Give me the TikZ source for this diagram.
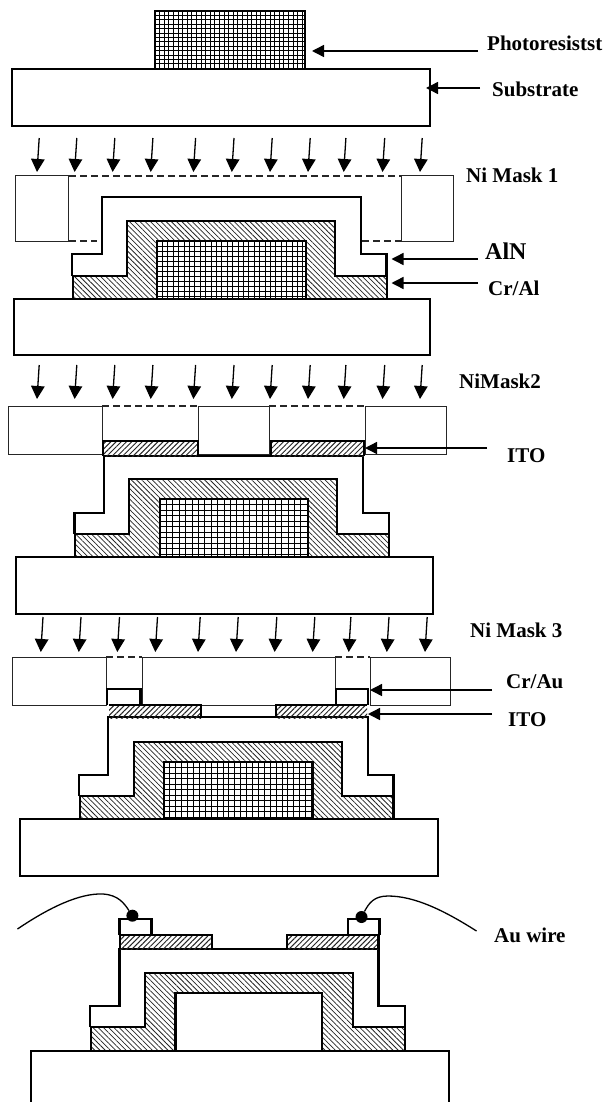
\documentclass[tikz,border=0pt]{standalone}
\usepackage{fontspec}
\setmainfont{Liberation Serif}
\usetikzlibrary{arrows.meta,patterns.meta}
\tikzset{
  thickline/.style={draw=black,line width=2.4pt,line join=miter},
  maskline/.style={draw=black!85,line width=1pt},
  maskgap/.style={draw=black!85,line width=1.2pt,dash pattern=on 7pt off 4pt},
  metalhatch/.style={pattern={Lines[angle=-45,distance=3.7pt,line width=.75pt]},pattern color=black!85},
  itohatch/.style={pattern={Lines[angle=45,distance=3.7pt,line width=1pt]},pattern color=black!85},
  gridline/.style={draw=black,line width=.9pt},
  ray/.style={draw=black,line width=1.3pt,-{Triangle[width=13.5pt,length=13pt]}},
  leader/.style={draw=black,line width=1.4pt,-{Triangle[width=12pt,length=12pt]}},
  tag/.style={anchor=west,inner sep=0pt,font=\bfseries\fontsize{21}{21}\selectfont,text=black},
  wire/.style={draw=black,line width=1.3pt},
  bump/.style={circle,fill=black,inner sep=0pt,minimum size=12pt}
}
\newcommand{\rayrow}[4]{%
  \foreach \xx [count=\ii] in {#4}{
    \coordinate (#1-\ii-from) at ({\xx+2.2},#2);
    \coordinate (#1-\ii-to) at (\xx,#3);
    \draw[ray] (#1-\ii-from) -- (#1-\ii-to);
  }}
\newcommand{\lead}[5]{%
  \coordinate (#1-from) at (#2,#4);
  \coordinate (#1-to) at (#3,#5);
  \draw[leader] (#1-from) -- (#1-to);}
% x1 y1 x2 y2 dx dy
\newcommand{\resistcells}[6]{%
  \begin{scope}
  \clip (#1,#2) rectangle (#3,#4);
  \pgfmathsetmacro{\gxa}{#1+#5}
  \pgfmathsetmacro{\gxb}{#1+2*#5}
  \pgfmathsetmacro{\gya}{#2+#6}
  \pgfmathsetmacro{\gyb}{#2+2*#6}
  \foreach \gx in {\gxa,\gxb,...,#3} \draw[gridline] (\gx,#2) -- (\gx,#4);
  \foreach \gy in {\gya,\gyb,...,#4} \draw[gridline] (#1,\gy) -- (#3,\gy);
  \end{scope}}
\begin{document}
\begin{tikzpicture}[x=1pt,y=-1pt]
\useasboundingbox (0,0) rectangle (607,1102);
\fill[white] (0,0) rectangle (607,1102);
\begin{scope}
\clip (0,0) rectangle (607,1102);

% ---------- stage 1
\resistcells{155}{11}{305}{69}{4.6}{4.4}
\draw[thickline] (155,69) -- (155,11) -- (305,11) -- (305,69);
\draw[thickline,fill=white] (12,69) rectangle (430,126);
\rayrow{a}{138}{172}{37,74.6,112.6,150.7,193.4,231.8,270,308,343.7,382.5,420}

% ---------- stage 2: mask 1 and device
\draw[maskline] (15.5,176) rectangle (68.7,241);
\draw[maskline] (401,176) rectangle (453,241);
\draw[maskgap] (69,176) -- (401,176);
\draw[maskgap] (69,241) -- (97,241);
\draw[maskgap] (362,241) -- (401,241);
\path[metalhatch] (73,298) -- (73,276) -- (127,276) -- (127,221) -- (335,221) -- (335,276) -- (387,276) -- (387,298) -- cycle;
\draw[thickline] (73,298) -- (73,276) -- (127,276) -- (127,221) -- (335,221) -- (335,276) -- (387,276) -- (387,298);
\draw[thickline] (72,276) -- (72,254) -- (102,254) -- (102,197) -- (361,197) -- (361,254) -- (386.5,254) -- (386.5,276);
\fill[white] (157,241) rectangle (306,298);
\resistcells{157}{241}{306}{298}{5.4}{5}
\draw[thickline] (157,298) -- (157,241) -- (306,241) -- (306,298);
\draw[thickline,fill=white] (14,299) rectangle (430,355);
\rayrow{b}{365}{399}{37,74.6,112.6,150.7,193.4,231.8,270,308,343.7,382.5,420}

% ---------- stage 3: mask 2 and device
\draw[maskline] (8,406) rectangle (102,454);
\draw[maskline] (198.5,406) rectangle (269,454);
\draw[maskline] (365,406) rectangle (446,454);
\draw[maskgap] (102,406) -- (198.5,406);
\draw[maskgap] (269,406) -- (365,406);
\path[metalhatch] (75,557) -- (75,534) -- (129,534) -- (129,479) -- (337,479) -- (337,534) -- (389,534) -- (389,557) -- cycle;
\draw[thickline] (75,557) -- (75,534) -- (129,534) -- (129,479) -- (337,479) -- (337,534) -- (389,534) -- (389,557);
\draw[thickline] (74.5,534) -- (74.5,513) -- (104,513) -- (104,456) -- (363,456) -- (363,513) -- (389,513) -- (389,534);
\path[itohatch] (103,441) rectangle (198,456);
\path[itohatch] (271,441) rectangle (364,456);
\draw[thickline] (103,456) -- (103,441) -- (198,441) -- (198,456);
\draw[thickline] (271,456) -- (271,441) -- (364,441) -- (364,456);
\fill[white] (160,499) rectangle (308,557);
\resistcells{160}{499}{308}{557}{6.4}{5.5}
\draw[thickline] (160,557) -- (160,499) -- (308,499) -- (308,557);
\draw[thickline,fill=white] (16,557) rectangle (433,614);
\rayrow{c}{617}{652}{40.8,78.8,117.3,155.3,198,236,274.6,312.6,348.7,386.8,425}

% ---------- stage 4: mask 3 and device
\draw[maskline] (12.4,657) rectangle (106,705);
\draw[maskline] (142,657) rectangle (335,705);
\draw[maskline] (370,657) rectangle (450.5,705);
\draw[maskgap] (106,657) -- (142,657);
\draw[maskgap] (335,657) -- (370,657);
\draw[thickline] (107,705) -- (107,689) -- (140.6,689) -- (140.6,705);
\draw[thickline] (336,705) -- (336,689) -- (368,689) -- (368,705);
\path[metalhatch] (80,819) -- (80,796) -- (134,796) -- (134,742) -- (342,742) -- (342,796) -- (393.5,796) -- (393.5,819) -- cycle;
\draw[thickline] (80,819) -- (80,796) -- (134,796) -- (134,742) -- (342,742) -- (342,796) -- (393.5,796) -- (393.5,819);
\draw[thickline] (79,796) -- (79,775) -- (108,775) -- (108,717) -- (368,717) -- (368,775) -- (393.5,775) -- (393.5,796);
\path[itohatch] (109,705) rectangle (201,718);
\path[itohatch] (276,705) rectangle (367,718);
\draw[thickline] (109,705) -- (201,705) -- (201,718);
\draw[thickline] (276,718) -- (276,705) -- (367,705);
\fill[white] (164,762) rectangle (312.6,819);
\resistcells{164}{762}{312.6}{819}{5.9}{5.5}
\draw[thickline] (164,819) -- (164,762) -- (312.6,762) -- (312.6,819);
\draw[thickline,fill=white] (20,819) rectangle (437.7,876);

% ---------- stage 5: finished device
\path[metalhatch] (91,1051) -- (91,1027) -- (145,1027) -- (145,973) -- (353,973) -- (353,1027) -- (405,1027) -- (405,1051) -- (322,1051) -- (322,993) -- (175.5,993) -- (175.5,1051) -- cycle;
\draw[thickline] (91,1051) -- (91,1027) -- (145,1027) -- (145,973) -- (353,973) -- (353,1027) -- (405,1027) -- (405,1051);
\draw[thickline] (175.5,1051) -- (175.5,993) -- (322,993) -- (322,1051);
\draw[thickline] (90,1027) -- (90,1006) -- (119.6,1006) -- (119.6,949) -- (378.6,949) -- (378.6,1006) -- (404.7,1006) -- (404.7,1027);
\path[itohatch] (120,935) rectangle (212,949);
\path[itohatch] (287,935) rectangle (378.6,949);
\draw[thickline] (120,949) -- (120,935) -- (212,935) -- (212,949);
\draw[thickline] (287,949) -- (287,935) -- (378.6,935) -- (378.6,949);
\draw[thickline] (119.6,935) -- (119.6,919) -- (151.5,919) -- (151.5,935);
\draw[thickline] (348,935) -- (348,919) -- (379.5,919) -- (379.5,935);
\draw[thickline] (31,1110) -- (31,1051) -- (449,1051) -- (449,1110);
\node[bump] (bumpL) at (132.4,915.7) {};
\node[bump] (bumpR) at (361.5,917) {};
\coordinate (wireL) at (17.5,929);
\coordinate (wireR) at (476.5,931);
\draw[wire] (wireL) .. controls (50,907) and (80,893) .. (103,894) .. controls (118,895) and (124,903) .. (bumpL);
\draw[wire] (wireR) .. controls (445,911) and (415,896) .. (388,896) .. controls (374,896) and (369,903) .. (bumpR);
\end{scope}

% ---------- labels and leaders
\node[tag] (photo) at (487,43) {Photoresistst};
\node[tag] (subs) at (492,89) {Substrate};
\node[tag] (mask1) at (466,175) {Ni Mask 1};
\node[tag,font=\bfseries\fontsize{24}{24}\selectfont] (aln) at (485,251) {AlN};
\node[tag] (cral) at (488,288) {Cr/Al};
\node[tag] (mask2) at (459,381) {NiMask2};
\node[tag] (ito1) at (507,456) {ITO};
\node[tag] (mask3) at (470,630) {Ni Mask 3};
\node[tag] (crau) at (506,682) {Cr/Au};
\node[tag] (ito2) at (508,720) {ITO};
\node[tag] (auw) at (494,935) {Au wire};
\lead{lphoto}{478}{312}{51}{51}
\lead{lsubs}{480}{426}{88}{88}
\lead{laln}{478}{391.5}{259}{259}
\lead{lcral}{478}{391.5}{283}{283}
\lead{lito}{487}{365}{448}{448}
\lead{lcrau}{492}{370}{690}{690}
\lead{litob}{492}{368}{714}{714}
\end{tikzpicture}
\end{document}
